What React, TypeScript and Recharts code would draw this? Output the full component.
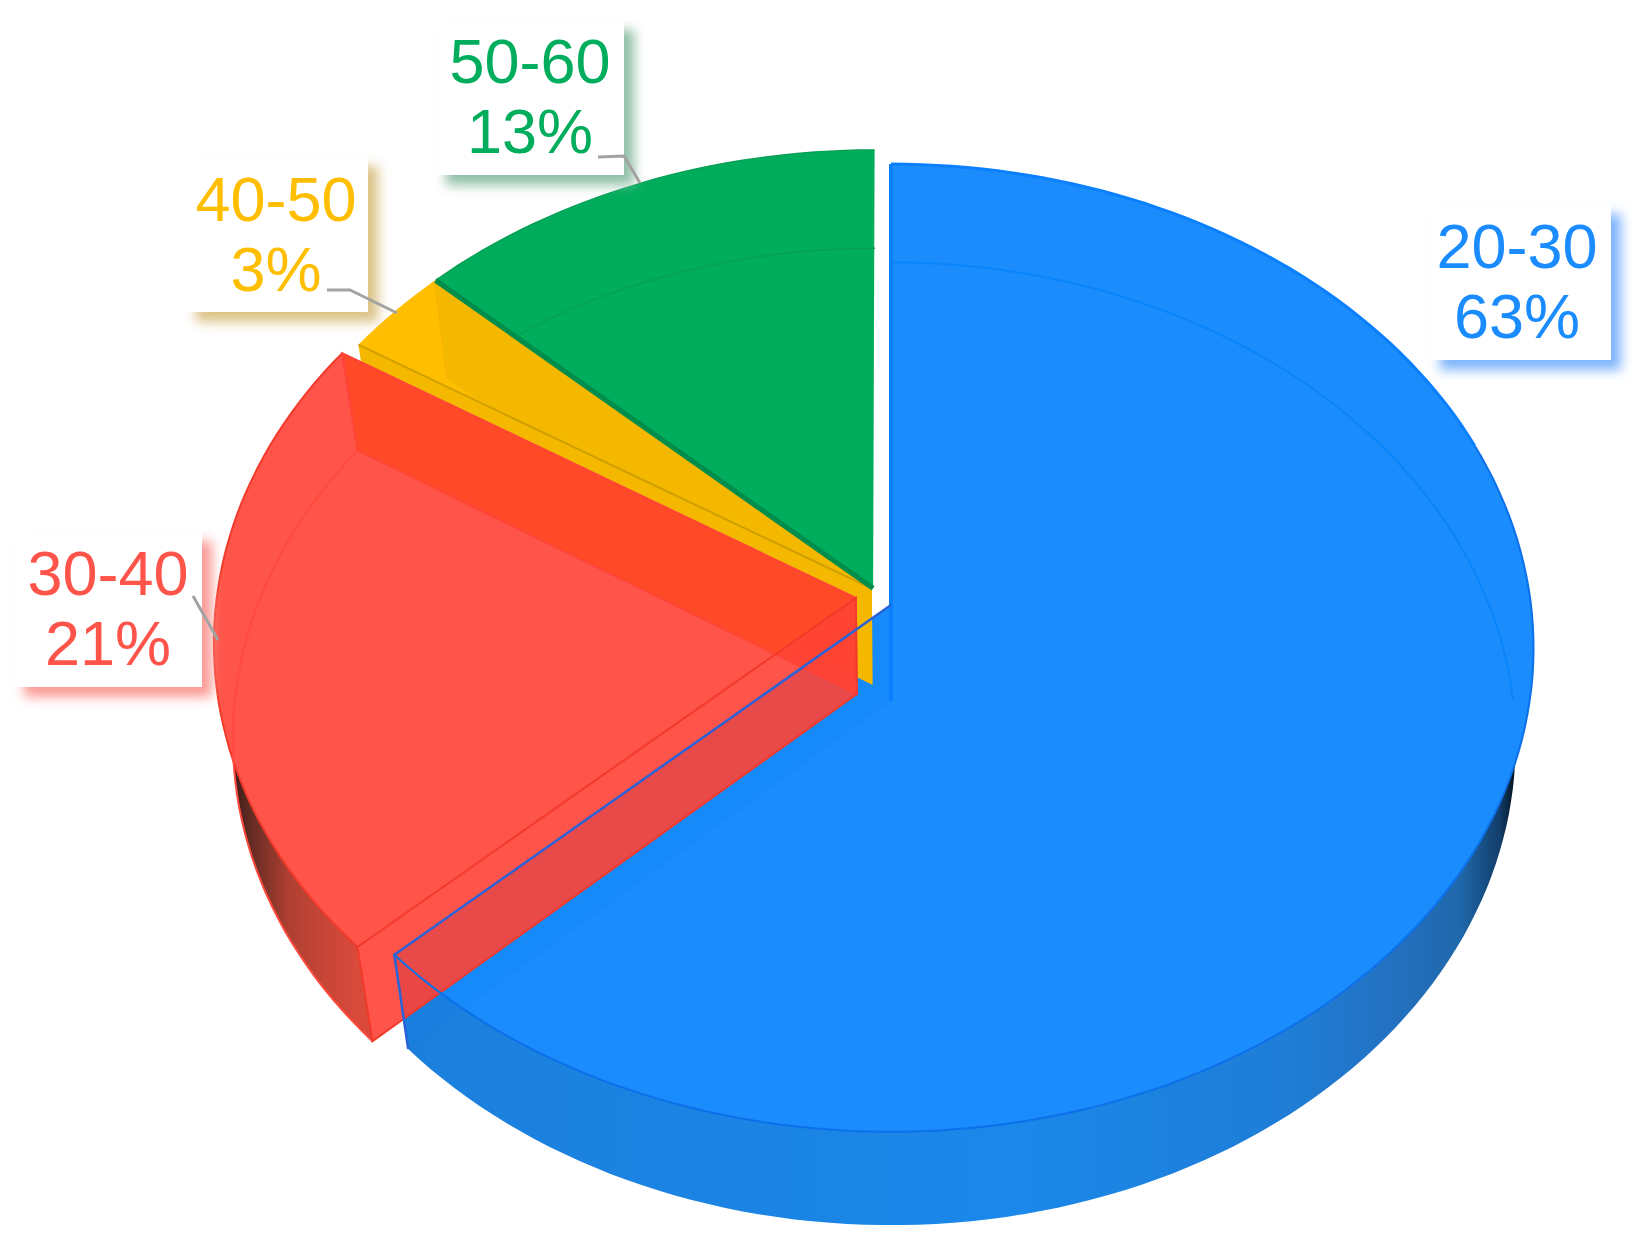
import { Pie, PieChart } from "recharts";

// draw order is back to front, so the list runs blue, green, yellow, red
const ageGroups = ["20-30", "50-60", "40-50", "30-40"];
const shares = [63, 13, 3, 21];

const chartData = ageGroups.map((name, i) => ({ name, value: shares[i] }));
const total = shares.reduce((a, b) => a + b, 0);
const firstAngle = 90 - (360 * shares[0]) / total;

// fake 3D: tilt of the plate, thickness, how far the lower plate shrinks
const TILT = 0.75;
const PERSPECTIVE = 0.0888;
const DEPTH = 96;
const LOW_X = 0.972;
const LOW_Y = 0.995;

const looks: Record<string, any> = {
  "20-30": { top: "#1a8cfb", wall: "#1c82e2", line: "#0c74ea", du: 0, dv: 0, text: "#1a8cff" },
  "50-60": { top: "#00ad5c", wall: "#00ad5c", line: "#05a056", du: -0.028, dv: 0.035, text: "#00ad5c" },
  "40-50": { top: "#ffbf00", wall: "#f5b800", line: "#cf9f00", du: -0.03, dv: 0.034, text: "#ffbf00" },
  "30-40": { top: "#ff5449", wall: "#ff4135", line: "#f23a2b", du: -0.055, dv: 0.0146, text: "#ff5449" },
};

const labelBoxes: Record<string, any> = {
  "20-30": { x: 1430, y: 204, w: 181, h: 156, tx: 1517, ty: 268, shadow: "#7db4fb" },
  "50-60": { x: 436, y: 20, w: 188, h: 155, tx: 530, ty: 83, shadow: "#8fbfa6", leader: "598,157 624,156 640,183" },
  "40-50": { x: 186, y: 156, w: 182, h: 156, tx: 276, ty: 221, shadow: "#dcc285", leader: "327,290 350,290 397,313" },
  "30-40": { x: 14, y: 531, w: 188, h: 156, tx: 108, ty: 595, shadow: "#fb9a94", leader: "193,596 218,640" },
};

const rad = (d: number) => (d * Math.PI) / 180;

const projector = (props: any) => {
  const { cx, cy, outerRadius: r, name } = props;
  const { du, dv } = looks[name];
  return (angle: number, radius: number, level: number) => {
    const u = radius * Math.cos(rad(angle)) + du;
    const v = radius * Math.sin(rad(angle)) + dv;
    const w = 1 + PERSPECTIVE * v;
    const x = cx + (r * (level ? LOW_X : 1) * u) / w;
    const y = cy - (r * TILT * (level ? LOW_Y : 1) * v) / w + DEPTH * level;
    return [x, y];
  };
};

const arc = (p: any, from: number, to: number, level: number) => {
  const pts = [];
  const steps = Math.max(2, Math.ceil(Math.abs(to - from) / 1.5));
  for (let i = 0; i <= steps; i++) pts.push(p(from + ((to - from) * i) / steps, 1, level));
  return pts;
};

const toPath = (pts: number[][], close = false) =>
  "M" + pts.map((q) => q[0].toFixed(1) + " " + q[1].toFixed(1)).join("L") + (close ? "Z" : "");

const SliceBody = (props: any) => {
  const { name, startAngle, endAngle } = props;
  const look = looks[name];
  const p = projector(props);
  const low = Math.min(startAngle, endAngle);
  const high = Math.max(startAngle, endAngle);
  const topFace = toPath([p(0, 0, 0), ...arc(p, low, high, 0)], true);
  const wallAt = (a: number) => toPath([p(a, 0, 0), p(a, 1, 0), p(a, 1, 1), p(a, 0, 1)], true);

  if (name === "20-30") {
    const front = [...arc(p, low, 6, 0), ...arc(p, 6, low, 1)];
    return (
      <g>
        <defs>
          <linearGradient id="blueRim" gradientUnits="userSpaceOnUse" x1={400} x2={1516} y1={0} y2={0}>
            <stop offset="0" stopColor="#1c7fdc" />
            <stop offset="0.55" stopColor="#1a88ea" />
            <stop offset="0.8" stopColor="#1f7dd6" />
            <stop offset="0.89" stopColor="#2371c1" />
            <stop offset="0.95" stopColor="#2068ab" />
            <stop offset="0.985" stopColor="#123f6c" />
            <stop offset="1" stopColor="#04101c" />
          </linearGradient>
        </defs>
        <path d={wallAt(low)} fill={look.wall} />
        <path d={toPath(front, true)} fill="url(#blueRim)" />
        <path d={topFace} fill={look.top} />
        <path d={wallAt(low)} fill="#0a7cf0" fillOpacity={0.12} />
      </g>
    );
  }

  if (name === "50-60") {
    return (
      <g>
        <path d={topFace} fill={look.top} />
        <path d={toPath(arc(p, low, high, 0))} fill="none" stroke={look.line} strokeWidth={1.5} />
        <path d={toPath(arc(p, low, high, 1))} fill="none" stroke={look.line} strokeWidth={1.5} />
      </g>
    );
  }

  if (name === "40-50") {
    return (
      <g>
        <path d={wallAt(high)} fill={look.wall} />
        <path d={topFace} fill={look.top} />
        <path d={wallAt(low)} fill={look.wall} />
        <path d={toPath([p(low, 1, 0), p(low, 1, 1)])} stroke="#f7b500" strokeWidth={1.5} />
        <path d={toPath([p(high, 1, 0), p(0, 0, 0)])} stroke={look.line} strokeWidth={2} fill="none" />
      </g>
    );
  }

  // red slice, the outer wall only shows on the front half
  const rim = [...arc(p, 178, high, 0), ...arc(p, high, 178, 1)];
  return (
    <g>
      <defs>
        <linearGradient id="redRim" gradientUnits="userSpaceOnUse" x1={222} x2={356} y1={0} y2={0}>
          <stop offset="0" stopColor="#1e100e" />
          <stop offset="0.2" stopColor="#5e2a22" />
          <stop offset="0.5" stopColor="#b04032" />
          <stop offset="1" stopColor="#d94a3b" />
        </linearGradient>
      </defs>
      <path d={toPath(rim, true)} fill="url(#redRim)" />
      <path d={topFace} fill={look.top} />
      <path d={toPath(arc(p, low, high, 0))} fill="none" stroke={look.line} strokeWidth={2} />
      <path d={toPath(arc(p, low, high, 1))} fill="none" stroke="#ff4a3e" strokeWidth={2} />
      <path d={wallAt(low)} fill="#ff4a26" fillOpacity={0.92} stroke="#ff4436" strokeWidth={2} />
      <path d={wallAt(high)} fill={look.wall} fillOpacity={0.9} stroke={look.line} strokeWidth={2} />
      <path d={toPath([p(low, 1, 0), p(low, 1, 1)])} stroke="#ff4436" strokeWidth={2} />
    </g>
  );
};

// lines that sit above everything else
const SliceLines = (props: any) => {
  const { name, startAngle, endAngle } = props;
  const p = projector(props);
  const low = Math.min(startAngle, endAngle);
  const high = Math.max(startAngle, endAngle);
  if (name === "50-60") {
    return <path d={toPath([p(high, 1, 0), p(0, 0, 0)])} fill="none" stroke="#008d4b" strokeWidth={5} />;
  }
  if (name !== "20-30") return <g />;
  return (
    <g fill="none">
      <path d={toPath(arc(p, low, 20, 0))} stroke="#0c70ea" strokeWidth={2} />
      <path d={toPath(arc(p, 0, high, 1))} stroke="#0a84fa" strokeWidth={2} />
      <path d={toPath(arc(p, 20, high, 0))} stroke="#0a80ff" strokeWidth={3} />
      <path d={toPath([p(high, 1, 0), p(0, 0, 0), p(0, 0, 1)])} stroke="#0a80ff" strokeWidth={4} />
      <path d={toPath([p(0, 0, 0), p(low, 1, 0), p(low, 1, 1)])} stroke="#2a62d8" strokeWidth={2.5} />
    </g>
  );
};

const AgeLabel = (props: any) => {
  const { name, value } = props;
  const box = labelBoxes[name];
  const color = looks[name].text;
  return (
    <g>
      <rect x={box.x + 10} y={box.y + 10} width={box.w} height={box.h} fill={box.shadow} filter="url(#labelBlur)" />
      <rect x={box.x} y={box.y} width={box.w} height={box.h} fill="#ffffff" />
      {box.leader && <polyline points={box.leader} fill="none" stroke="#a3a3a3" strokeWidth={3} />}
      <text x={box.tx} y={box.ty} textAnchor="middle" fontFamily="Liberation Sans" fontSize={63} fill={color}>
        {name}
      </text>
      <text x={box.tx} y={box.ty + 70} textAnchor="middle" fontFamily="Liberation Sans" fontSize={63} fill={color}>
        {value}%
      </text>
    </g>
  );
};

export default function App() {
  return (
    <div style={{ position: "absolute", left: 0, top: 0, width: 1640, height: 1251, background: "#fff" }}>
      <PieChart width={1640} height={1251} margin={{ top: 0, right: 0, bottom: 0, left: 0 }}>
        <defs>
          <filter id="labelBlur" x="-20%" y="-20%" width="140%" height="140%">
            <feGaussianBlur stdDeviation={6} />
          </filter>
        </defs>
        <Pie
          data={chartData}
          dataKey="value"
          nameKey="name"
          cx={891}
          cy={605}
          outerRadius={640}
          startAngle={firstAngle}
          endAngle={firstAngle + 360}
          shape={SliceBody}
          stroke="none"
          isAnimationActive={false}
        />
        <Pie
          data={chartData}
          dataKey="value"
          nameKey="name"
          cx={891}
          cy={605}
          outerRadius={640}
          startAngle={firstAngle}
          endAngle={firstAngle + 360}
          shape={SliceLines}
          stroke="none"
          label={AgeLabel}
          labelLine={false}
          isAnimationActive={false}
        />
      </PieChart>
    </div>
  );
}
